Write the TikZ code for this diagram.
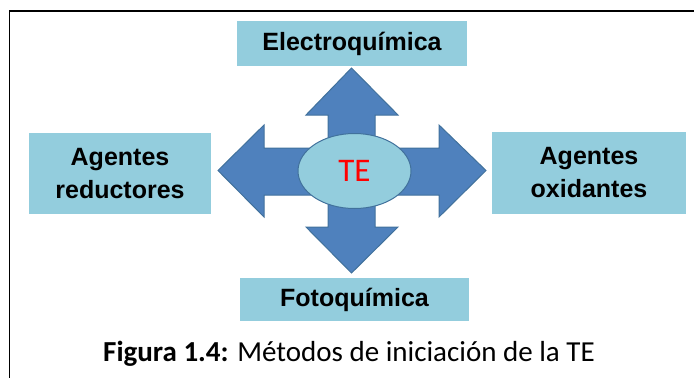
\documentclass[tikz,border=0pt]{standalone}
\usepackage{fontspec}
\setmainfont{Carlito}
\newfontfamily\boxfont{Liberation Sans}
\usepackage{tikz}
\usetikzlibrary{positioning, shapes.geometric}

\definecolor{boxblue}{HTML}{93CDDD}
\definecolor{arrowblue}{HTML}{4F81BD}
\definecolor{arrowedge}{HTML}{41719C}

\tikzset{
  metodo/.style={fill=boxblue, inner sep=0pt, align=center,
    font=\boxfont\bfseries\fontsize{25}{33}\selectfont},
}

\begin{document}
\begin{tikzpicture}[x=1pt, y=-1pt]
\useasboundingbox (0,0) rectangle (694,378);

% marco
\draw[line width=1.5pt] (9,11) -- (694,11);
\draw[line width=1pt] (9,11) -- (9,378);

% flechas en cruz
\draw[fill=arrowblue, draw=arrowedge, line width=1pt, line join=miter]
  (351.5,68) -- (398,115) -- (375,115) -- (375,148) -- (439,148) -- (439,125)
  -- (486,170.5) -- (439,217) -- (439,195) -- (375,195) -- (375,227)
  -- (398,227) -- (351.5,273) -- (306,227) -- (328,227) -- (328,195)
  -- (264,195) -- (264,217) -- (218,170.5) -- (264,125) -- (264,148)
  -- (328,148) -- (328,115) -- (306,115) -- cycle;

\node[ellipse, fill=boxblue, draw=arrowedge, line width=1pt, minimum width=113pt,
  minimum height=75pt, text=red, font=\fontsize{33}{36}\selectfont] (te) at (354.5,171) {TE};

\node[metodo, minimum width=230pt, minimum height=45pt] (electro) at (352,43.5) {Electroquímica};
\node[metodo, minimum width=229pt, minimum height=43pt] (foto) at (354.5,299.5) {Fotoquímica};
\node[metodo, minimum width=182pt, minimum height=81pt] (reductores) at (120,173.5) {Agentes\\reductores};
\node[metodo, minimum width=194pt, minimum height=82pt] (oxidantes) at (589,173) {Agentes\\oxidantes};

\node[anchor=base, font=\fontsize{29}{34}\selectfont] (caption) at (349,361)
  {\textbf{Figura 1.4:} Métodos de iniciación de la TE};
\end{tikzpicture}
\end{document}
